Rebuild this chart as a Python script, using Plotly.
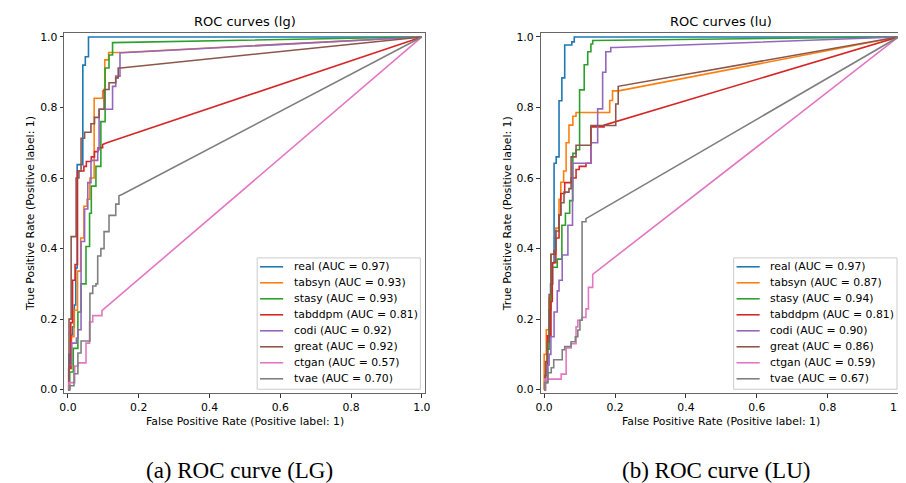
import plotly.graph_objects as go

# ---------------- data ----------------
models = ["real", "tabsyn", "stasy", "tabddpm", "codi", "great", "ctgan", "tvae"]
colors = ["#1f77b4", "#ff7f0e", "#2ca02c", "#d62728", "#9467bd", "#8c564b", "#e377c2", "#7f7f7f"]
lg_auc = [0.97, 0.93, 0.93, 0.81, 0.92, 0.92, 0.57, 0.70]
lu_auc = [0.97, 0.87, 0.94, 0.81, 0.90, 0.86, 0.59, 0.67]
tick_vals = [0.0, 0.2, 0.4, 0.6, 0.8, 1.0]
panel_titles = ["ROC curves (lg)", "ROC curves (lu)"]
captions = ["(a) ROC curve (LG)", "(b) ROC curve (LU)"]
x_label = "False Positive Rate (Positive label: 1)"
y_label = "True Positive Rate (Positive label: 1)"

# ---- LG panel ----
lg_real_fpr = [0, 0.003, 0.003, 0.008, 0.008, 0.013, 0.013, 0.018, 0.018, 0.022, 0.022, 0.026, 0.026, 0.042, 0.042, 0.049, 0.049, 0.058, 0.058, 1.0]
lg_real_tpr = [0, 0, 0.10, 0.10, 0.155, 0.155, 0.178, 0.178, 0.24, 0.24, 0.345, 0.345, 0.638, 0.638, 0.92, 0.92, 0.944, 0.944, 1.0, 1.0]
lg_tabsyn_fpr = [0, 0.003, 0.003, 0.010, 0.010, 0.017, 0.017, 0.027, 0.027, 0.036, 0.036, 0.045, 0.045, 0.054, 0.054, 0.062, 0.062, 0.074, 0.074, 0.098, 0.098, 0.104, 0.104, 0.115, 0.115, 0.154, 1.0]
lg_tabsyn_tpr = [0, 0, 0.06, 0.06, 0.15, 0.15, 0.225, 0.225, 0.336, 0.336, 0.43, 0.43, 0.52, 0.52, 0.54, 0.54, 0.60, 0.60, 0.826, 0.826, 0.847, 0.847, 0.935, 0.935, 0.956, 0.956, 1.0]
lg_stasy_fpr = [0, 0.005, 0.005, 0.015, 0.015, 0.028, 0.028, 0.037, 0.037, 0.051, 0.051, 0.061, 0.061, 0.066, 0.066, 0.079, 0.079, 0.093, 0.093, 0.105, 0.105, 0.116, 0.116, 0.126, 0.126, 1.0]
lg_stasy_tpr = [0, 0, 0.05, 0.05, 0.117, 0.117, 0.22, 0.22, 0.30, 0.30, 0.406, 0.406, 0.50, 0.50, 0.577, 0.577, 0.633, 0.633, 0.76, 0.76, 0.912, 0.912, 0.949, 0.949, 0.984, 1.0]
lg_tabddpm_fpr = [0, 0.002, 0.002, 0.008, 0.008, 0.013, 0.013, 0.020, 0.020, 0.027, 0.027, 0.045, 0.045, 0.052, 0.052, 0.066, 0.066, 0.075, 0.075, 0.085, 0.085, 0.098, 0.098, 0.11, 1.0]
lg_tabddpm_tpr = [0, 0, 0.06, 0.06, 0.19, 0.19, 0.31, 0.31, 0.355, 0.355, 0.62, 0.62, 0.633, 0.633, 0.647, 0.647, 0.66, 0.66, 0.675, 0.675, 0.686, 0.686, 0.695, 0.70, 1.0]
lg_codi_fpr = [0, 0.003, 0.003, 0.0105, 0.0105, 0.024, 0.024, 0.028, 0.028, 0.037, 0.037, 0.047, 0.047, 0.056, 0.056, 0.065, 0.065, 0.084, 0.084, 0.088, 0.088, 0.126, 0.126, 0.135, 0.135, 0.147, 0.147, 0.154, 1.0]
lg_codi_tpr = [0, 0, 0.07, 0.07, 0.132, 0.132, 0.146, 0.146, 0.17, 0.17, 0.42, 0.42, 0.512, 0.512, 0.587, 0.587, 0.65, 0.65, 0.68, 0.68, 0.795, 0.795, 0.86, 0.86, 0.889, 0.889, 0.955, 0.955, 1.0]
lg_great_fpr = [0, 0.003, 0.003, 0.009, 0.009, 0.023, 0.023, 0.031, 0.031, 0.037, 0.037, 0.047, 0.047, 0.065, 0.065, 0.075, 0.075, 0.088, 0.088, 0.102, 0.102, 0.116, 0.116, 0.135, 0.135, 0.142, 0.142, 0.149, 1.0]
lg_great_tpr = [0, 0, 0.20, 0.20, 0.434, 0.434, 0.60, 0.60, 0.62, 0.62, 0.713, 0.713, 0.73, 0.73, 0.754, 0.754, 0.772, 0.772, 0.795, 0.795, 0.851, 0.851, 0.87, 0.87, 0.884, 0.884, 0.912, 0.912, 1.0]
lg_ctgan_fpr = [0, 0.003, 0.003, 0.019, 0.019, 0.028, 0.028, 0.051, 0.051, 0.061, 0.061, 0.070, 0.070, 0.096, 0.096, 1.0]
lg_ctgan_tpr = [0, 0, 0.02, 0.02, 0.067, 0.067, 0.076, 0.076, 0.132, 0.132, 0.192, 0.192, 0.21, 0.21, 0.224, 1.0]
lg_tvae_fpr = [0, 0.005, 0.005, 0.017, 0.017, 0.028, 0.028, 0.037, 0.037, 0.062, 0.062, 0.070, 0.070, 0.079, 0.079, 0.084, 0.084, 0.093, 0.093, 0.102, 0.102, 0.116, 0.116, 0.135, 0.135, 0.144, 0.144, 0.154, 1.0]
lg_tvae_tpr = [0, 0, 0.011, 0.011, 0.045, 0.045, 0.104, 0.104, 0.138, 0.138, 0.273, 0.273, 0.294, 0.294, 0.30, 0.30, 0.379, 0.379, 0.40, 0.40, 0.448, 0.448, 0.494, 0.494, 0.526, 0.526, 0.55, 0.554, 1.0]

# ---- LU panel ----
lu_real_fpr = [0, 0.003, 0.003, 0.010, 0.010, 0.018, 0.018, 0.024, 0.024, 0.028, 0.028, 0.034, 0.034, 0.042, 0.042, 0.050, 0.050, 0.058, 0.058, 0.078, 0.078, 0.085, 0.085, 1.0]
lu_real_tpr = [0, 0, 0.05, 0.05, 0.15, 0.15, 0.30, 0.30, 0.36, 0.36, 0.642, 0.642, 0.66, 0.66, 0.819, 0.819, 0.884, 0.884, 0.977, 0.977, 0.986, 0.986, 1.0, 1.0]
lu_tabsyn_fpr = [0, 0.0, 0.006, 0.006, 0.014, 0.014, 0.020, 0.020, 0.033, 0.033, 0.042, 0.042, 0.047, 0.047, 0.055, 0.055, 0.062, 0.062, 0.070, 0.070, 0.081, 0.081, 0.090, 0.090, 0.185, 0.185, 0.193, 0.193, 0.21, 1.0]
lu_tabsyn_tpr = [0, 0.10, 0.10, 0.17, 0.17, 0.26, 0.26, 0.384, 0.384, 0.458, 0.458, 0.54, 0.54, 0.588, 0.588, 0.62, 0.62, 0.70, 0.70, 0.75, 0.75, 0.775, 0.775, 0.786, 0.786, 0.82, 0.82, 0.847, 0.847, 1.0]
lu_stasy_fpr = [0, 0.003, 0.003, 0.009, 0.009, 0.014, 0.014, 0.019, 0.019, 0.023, 0.023, 0.037, 0.037, 0.050, 0.050, 0.060, 0.060, 0.072, 0.072, 0.081, 0.081, 0.090, 0.090, 0.100, 0.100, 0.113, 0.113, 0.123, 0.123, 0.132, 0.132, 0.137, 0.137, 1.0]
lu_stasy_tpr = [0, 0, 0.04, 0.04, 0.115, 0.115, 0.227, 0.227, 0.30, 0.30, 0.347, 0.347, 0.37, 0.37, 0.466, 0.466, 0.50, 0.50, 0.536, 0.536, 0.67, 0.67, 0.68, 0.68, 0.85, 0.85, 0.921, 0.921, 0.958, 0.958, 0.98, 0.98, 0.99, 1.0]
lu_tabddpm_fpr = [0, 0.003, 0.003, 0.009, 0.009, 0.019, 0.019, 0.023, 0.023, 0.033, 0.033, 0.042, 0.042, 0.047, 0.047, 0.058, 0.058, 0.076, 0.076, 0.090, 0.090, 0.099, 0.099, 0.118, 0.118, 0.132, 0.132, 0.169, 0.169, 1.0]
lu_tabddpm_tpr = [0, 0, 0.04, 0.04, 0.153, 0.153, 0.25, 0.25, 0.36, 0.36, 0.43, 0.43, 0.495, 0.495, 0.556, 0.556, 0.587, 0.587, 0.60, 0.60, 0.624, 0.624, 0.633, 0.633, 0.642, 0.642, 0.745, 0.745, 0.75, 1.0]
lu_codi_fpr = [0, 0.003, 0.003, 0.009, 0.009, 0.014, 0.014, 0.019, 0.019, 0.028, 0.028, 0.037, 0.037, 0.042, 0.042, 0.051, 0.051, 0.067, 0.067, 0.080, 0.080, 0.132, 0.132, 0.151, 0.151, 0.165, 0.165, 0.174, 0.174, 0.188, 0.188, 0.20, 1.0]
lu_codi_tpr = [0, 0, 0.02, 0.02, 0.07, 0.07, 0.10, 0.10, 0.15, 0.15, 0.22, 0.22, 0.28, 0.28, 0.31, 0.31, 0.382, 0.382, 0.466, 0.466, 0.642, 0.642, 0.70, 0.70, 0.796, 0.796, 0.90, 0.90, 0.958, 0.958, 0.97, 0.97, 1.0]
lu_great_fpr = [0, 0.004, 0.004, 0.009, 0.009, 0.014, 0.014, 0.019, 0.019, 0.028, 0.028, 0.033, 0.033, 0.042, 0.042, 0.047, 0.047, 0.056, 0.056, 0.070, 0.070, 0.076, 0.076, 0.090, 0.090, 0.132, 0.132, 0.202, 0.202, 0.209, 0.209, 1.0]
lu_great_tpr = [0, 0, 0.08, 0.08, 0.135, 0.135, 0.27, 0.27, 0.384, 0.384, 0.394, 0.394, 0.45, 0.45, 0.495, 0.495, 0.53, 0.53, 0.56, 0.56, 0.57, 0.57, 0.66, 0.66, 0.693, 0.693, 0.749, 0.749, 0.81, 0.81, 0.86, 1.0]
lu_ctgan_fpr = [0, 0.002, 0.002, 0.048, 0.048, 0.062, 0.062, 0.076, 0.076, 0.090, 0.090, 0.095, 0.095, 0.107, 0.107, 0.118, 0.118, 0.125, 0.125, 0.137, 0.137, 1.0]
lu_ctgan_tpr = [0, 0, 0.03, 0.03, 0.044, 0.044, 0.118, 0.118, 0.13, 0.13, 0.178, 0.178, 0.197, 0.197, 0.205, 0.205, 0.229, 0.229, 0.29, 0.29, 0.327, 1.0]
lu_tvae_fpr = [0, 0.001, 0.001, 0.011, 0.011, 0.020, 0.020, 0.027, 0.027, 0.051, 0.051, 0.058, 0.058, 0.076, 0.076, 0.088, 0.088, 0.095, 0.095, 0.101, 0.101, 0.107, 0.107, 0.118, 0.118, 1.0]
lu_tvae_tpr = [0, 0, 0.02, 0.02, 0.048, 0.048, 0.062, 0.062, 0.085, 0.085, 0.113, 0.113, 0.122, 0.122, 0.136, 0.136, 0.15, 0.15, 0.169, 0.169, 0.197, 0.197, 0.476, 0.476, 0.485, 1.0]

lg_curves = [(lg_real_fpr, lg_real_tpr), (lg_tabsyn_fpr, lg_tabsyn_tpr), (lg_stasy_fpr, lg_stasy_tpr),
             (lg_tabddpm_fpr, lg_tabddpm_tpr), (lg_codi_fpr, lg_codi_tpr), (lg_great_fpr, lg_great_tpr),
             (lg_ctgan_fpr, lg_ctgan_tpr), (lg_tvae_fpr, lg_tvae_tpr)]
lu_curves = [(lu_real_fpr, lu_real_tpr), (lu_tabsyn_fpr, lu_tabsyn_tpr), (lu_stasy_fpr, lu_stasy_tpr),
             (lu_tabddpm_fpr, lu_tabddpm_tpr), (lu_codi_fpr, lu_codi_tpr), (lu_great_fpr, lu_great_tpr),
             (lu_ctgan_fpr, lu_ctgan_tpr), (lu_tvae_fpr, lu_tvae_tpr)]

# ---------------- figure ----------------
W, H = 906, 483
FONT = "DejaVu Sans"
fig = go.Figure()

panels = [("x", "y", lg_curves, lg_auc), ("x2", "y2", lu_curves, lu_auc)]
for xa, ya, curves, aucs in panels:
    for name, col, (fx, ty) in zip(models, colors, curves):
        fig.add_trace(go.Scatter(x=fx, y=ty, mode="lines", xaxis=xa, yaxis=ya,
                                 line=dict(color=col, width=1.6), showlegend=False,
                                 name=name, hoverinfo="skip"))

x_domains = [[52 / W, 417 / W], [533.5 / W, 899 / W]]
y_domain = [1 - 387 / H, 1 - 22.7 / H]

axis_common = dict(range=[-0.01, 1.01], tickvals=tick_vals, tickformat=".1f",
                   ticks="outside", ticklen=3.8, tickwidth=0.9, tickcolor="#333",
                   showline=True, mirror=True, linecolor="#666", linewidth=1,
                   showgrid=False, zeroline=False,
                   tickfont=dict(family=FONT, size=10.85, color="#000"))

fig.update_layout(
    width=W, height=H, margin=dict(l=0, r=0, t=0, b=0),
    plot_bgcolor="white", paper_bgcolor="white", showlegend=False,
    xaxis=dict(domain=x_domains[0], anchor="y", **axis_common),
    yaxis=dict(domain=y_domain, anchor="x", **axis_common),
    xaxis2=dict(domain=x_domains[1], anchor="y2", **axis_common),
    yaxis2=dict(domain=y_domain, anchor="x2", **axis_common),
)

annotations = []
shapes = []
caption_x = [229, 711]
ylabel_x = [17, 499.5]
for p, (xa, ya, curves, aucs) in enumerate(panels):
    d0, d1 = x_domains[p]
    cx = (d0 + d1) / 2
    # title
    annotations.append(dict(text=panel_titles[p], x=cx, y=1 - 11 / H, xref="paper", yref="paper",
                            showarrow=False, xanchor="center", yanchor="middle",
                            font=dict(family=FONT, size=13, color="#000")))
    # axis labels
    annotations.append(dict(text=x_label, x=cx, y=1 - 415.5 / H, xref="paper", yref="paper",
                            showarrow=False, xanchor="center", yanchor="middle",
                            font=dict(family=FONT, size=10.85, color="#000")))
    annotations.append(dict(text=y_label, x=ylabel_x[p] / W, y=(y_domain[0] + y_domain[1]) / 2,
                            xref="paper", yref="paper", showarrow=False, textangle=-90,
                            xanchor="center", yanchor="middle",
                            font=dict(family=FONT, size=10.85, color="#000")))
    # caption
    annotations.append(dict(text=captions[p], x=caption_x[p] / W, y=1 - 465 / H, xref="paper", yref="paper",
                            showarrow=False, xanchor="center", yanchor="middle",
                            font=dict(family="Liberation Serif", size=23, color="#000")))
    # legend (drawn inside the axes, lower right)
    xd = xa + " domain"
    yd = ya + " domain"
    ax_h = (387 - 22.7)
    shapes.append(dict(type="rect", xref=xd, yref=yd, x0=0.534, x1=0.986,
                       y0=(387 - 383) / ax_h, y1=(387 - 250) / ax_h,
                       line=dict(color="#cccccc", width=1), fillcolor="rgba(255,255,255,0.85)"))
    for i, (name, col) in enumerate(zip(models, colors)):
        yy = (387 - (259 + i * 16.2)) / ax_h
        shapes.append(dict(type="line", xref=xd, yref=yd, x0=0.542, x1=0.606, y0=yy, y1=yy,
                           line=dict(color=col, width=1.6)))
        annotations.append(dict(text=f"{name} (AUC = {aucs[i]:.2f})", x=0.630, y=yy, xref=xd, yref=yd,
                                showarrow=False, xanchor="left", yanchor="middle",
                                font=dict(family=FONT, size=10.85, color="#000")))

fig.update_layout(annotations=annotations, shapes=shapes)
fig.write_html("out.html")
